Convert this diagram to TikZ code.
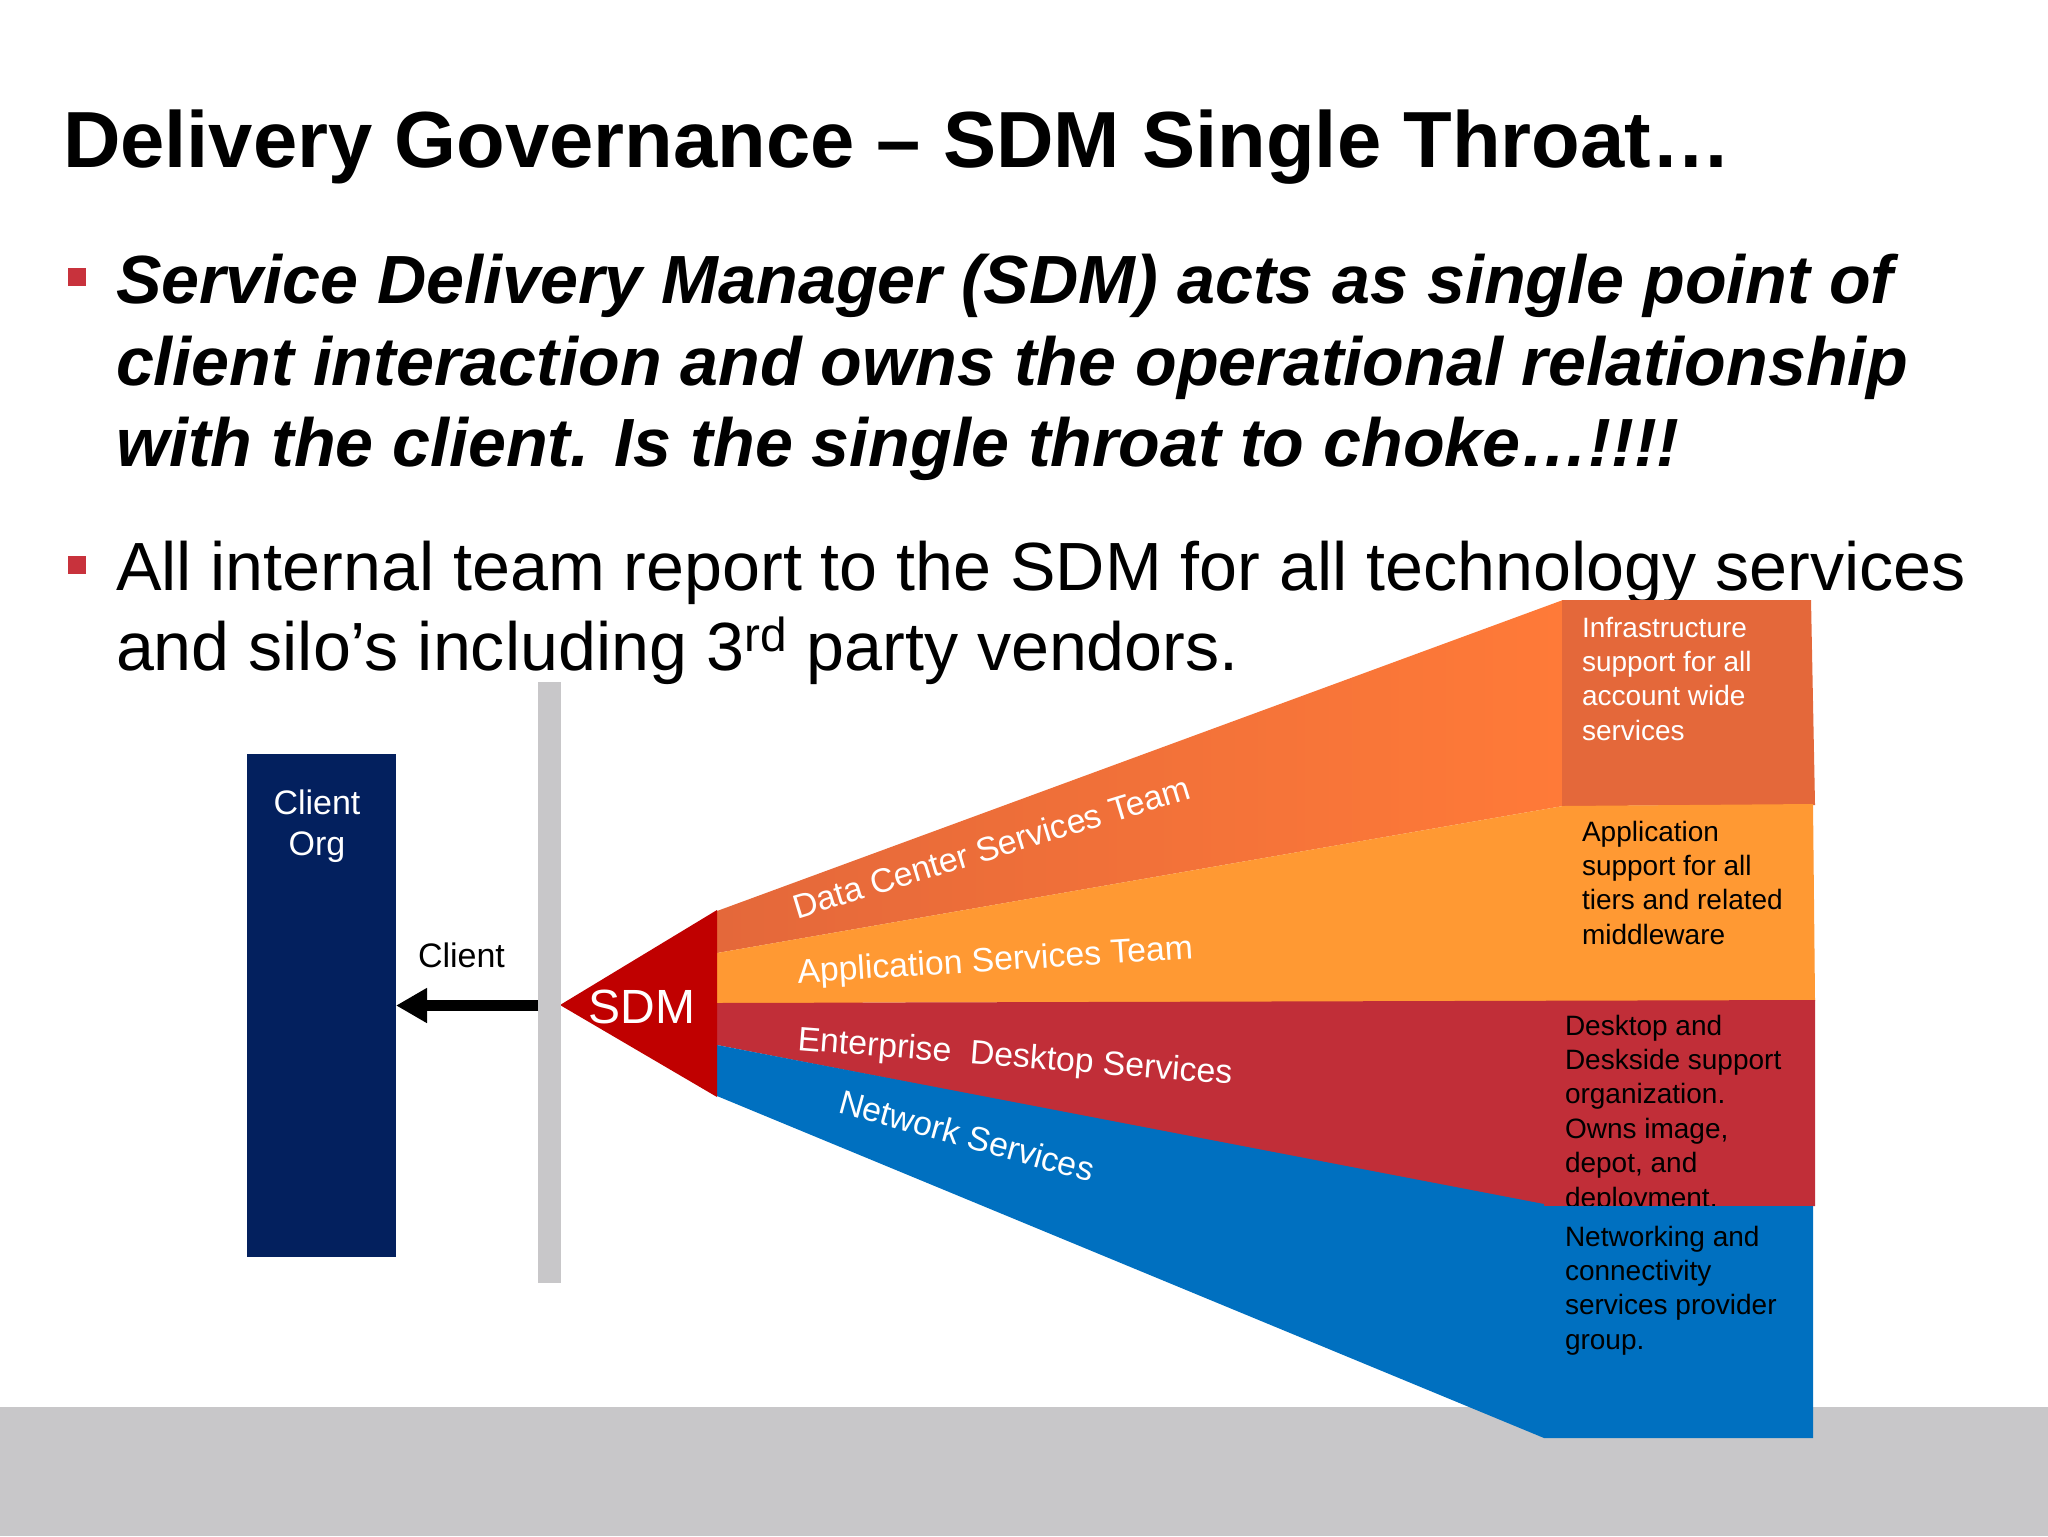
\documentclass[tikz,border=0pt]{standalone}
\usepackage{fontspec}
\setmainfont{Liberation Sans}
\usetikzlibrary{arrows.meta}
\definecolor{navy}{HTML}{03205E}
\definecolor{barGray}{HTML}{C8C7C9}
\definecolor{bulletRed}{HTML}{C8323C}
\definecolor{sdmRed}{HTML}{C00000}
\definecolor{dcOrange}{HTML}{E4683A}
\definecolor{dcBright}{HTML}{FF7A38}
\definecolor{appOrange}{HTML}{FF9933}
\definecolor{entRed}{HTML}{C12E38}
\definecolor{netBlue}{HTML}{0070C0}
\newcommand{\toplines}[1]{\begin{tabular}[t]{@{}l@{}}#1\end{tabular}}
\begin{document}
\begin{tikzpicture}[x=0.5pt,y=-0.5pt,
  every node/.style={inner sep=0pt, outer sep=0pt},
  titletext/.style={anchor=base west, font=\fontsize{39.8}{47}\selectfont\bfseries},
  boldline/.style={anchor=base west, font=\fontsize{34.1}{40}\selectfont\bfseries\itshape},
  plainline/.style={anchor=base west, font=\fontsize{34.1}{40}\selectfont},
  bulletsq/.style={fill=bulletRed, minimum size=9pt},
  bandlabel/.style={anchor=base west, text=white, font=\fontsize{16.9}{20}\selectfont},
  boxtext/.style={anchor=base west, font=\fontsize{14}{17.2}\selectfont},
  smalltext/.style={font=\fontsize{17}{20.5}\selectfont},
  arrowline/.style={line width=5.5pt, -{Triangle[length=15.5pt,width=16.5pt]}}
]
\useasboundingbox (0,0) rectangle (2048,1536);
\fill[white] (0,0) rectangle (2048,1536);
\fill[barGray] (0,1407) rectangle (2048,1536);

% title
\node[titletext] (title) at (63,167) {Delivery Governance – SDM Single Throat…};

% bullets
\node[bulletsq] (b1) at (77,277) {};
\node[boldline] (l1) at (116,303) {Service Delivery Manager (SDM) acts as single point of};
\node[boldline] (l2) at (116,385) {client interaction and owns the operational relationship};
\node[boldline] (l3) at (116,466) {with the client. Is the single throat to choke…!!!!};
\node[bulletsq] (b2) at (77,565) {};
\node[plainline] (l4) at (116,590) {All internal team report to the SDM for all technology services};
\node[plainline] (l5) at (116,670) {and silo’s including 3\textsuperscript{rd} party vendors.};

% fan bands
\shade[left color=dcOrange, right color=dcBright]
  (717,911) -- (1563,600) -- (1563,806) -- (717,953) -- cycle;
\shade[left color=dcOrange, middle color=dcBright, right color=dcOrange]
  (1562,600) -- (1811,600) -- (1815,805) -- (1562,806) -- cycle;
\fill[appOrange] (717,953) -- (1563,806) -- (1813,804) -- (1815,1001) -- (717,1003) -- cycle;
\fill[entRed] (717,1003) -- (1815,1000) -- (1815,1206) -- (1544,1206) -- (717,1045) -- cycle;

% box texts (red box text under the blue band)
\node[boxtext, text=white] (t1) at (1582,637) {\toplines{Infrastructure\\support for all\\account wide\\services}};
\node[boxtext, text=black] (t2) at (1582,841) {\toplines{Application\\support for all\\tiers and related\\middleware}};
\node[boxtext, text=black] (t3) at (1565,1035) {\toplines{Desktop and\\Deskside support\\organization.\\Owns image,\\depot, and\\deployment.}};

\fill[netBlue] (717,1045) -- (1544,1204) -- (1544,1206) -- (1813,1206) -- (1813,1438) -- (1544,1438) -- (717,1096) -- cycle;
\node[boxtext, text=black] (t4) at (1565,1246) {\toplines{Networking and\\connectivity\\services provider\\group.}};

% band labels
\node[bandlabel, rotate=17] (dc) at (797,919) {Data Center Services Team};
\node[bandlabel, rotate=3.5] (app) at (798,983) {Application Services Team};
\node[bandlabel, rotate=-4.5] (ent) at (797,1050) {Enterprise\ \ Desktop Services};
\node[bandlabel, rotate=-15.5] (net) at (837,1112) {Network Services};

% SDM triangle
\fill[sdmRed] (560,1005) -- (717,910) -- (717,1097) -- cycle;
\node[text=white, font=\fontsize{24}{28}\selectfont] (sdm) at (642,1007) {SDM};

% client org box
\node[fill=navy, minimum width=74.5pt, minimum height=251.5pt, anchor=north west] (org) at (247,754) {};
\node[text=white, smalltext, align=center, anchor=north] (orglbl) at (317,790) {Client\\Org};

% barrier bar
\node[fill=barGray, minimum width=11.5pt, minimum height=300.5pt, anchor=north west] (bar) at (538,682) {};

% arrow
\draw[arrowline] (bar.west |- org.east) -- (org.east);
\node[smalltext, anchor=base west] (clientlbl) at (418,967) {Client};
\end{tikzpicture}
\end{document}
